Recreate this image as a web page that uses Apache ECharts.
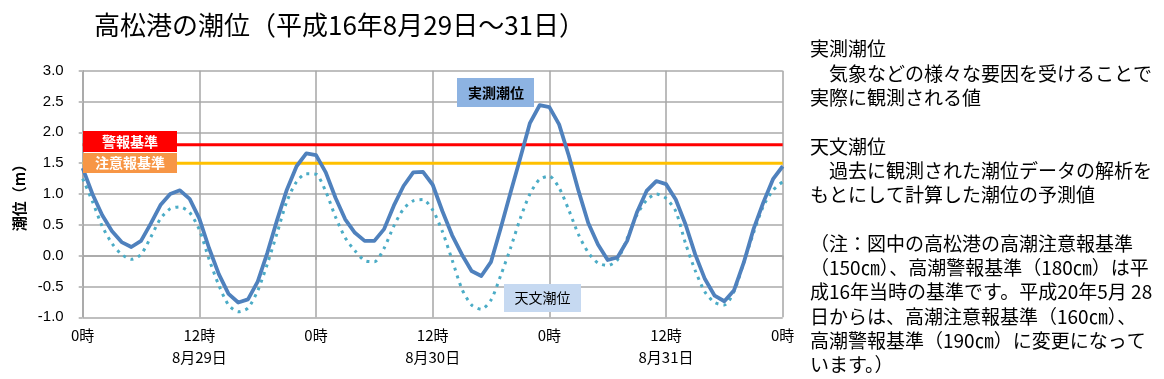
<!DOCTYPE html>
<html>
<head>
<meta charset="utf-8">
<script src="https://cdn.jsdelivr.net/npm/echarts@6/dist/echarts.min.js"></script>
<style>
html,body{margin:0;padding:0;background:#fff;}
#chart{width:1164px;height:379px;}
</style>
</head>
<body>
<div id="chart"></div>
<script>
// ---- data ----
const titleText = '高松港の潮位（平成16年8月29日～31日）';
const hoursCount = 72; // hourly observations 0..72
const hourTickLabels = ['0時', '12時', '0時', '12時', '0時', '12時', '0時'];
const dateTickLabels = ['', '8月29日', '', '8月30日', '', '8月31日', ''];
const yTickLabels = ['-1.0', '-0.5', '0.0', '0.5', '1.0', '1.5', '2.0', '2.5', '3.0'];

const observed = [1.42, 1.00, 0.66, 0.40, 0.22, 0.14, 0.24, 0.52, 0.82, 1.00, 1.06, 0.92, 0.60,
  0.12, -0.30, -0.62, -0.76, -0.71, -0.42, 0.05, 0.58, 1.07, 1.45, 1.66, 1.63,
  1.35, 0.94, 0.59, 0.37, 0.24, 0.24, 0.43, 0.81, 1.13, 1.35, 1.36, 1.15,
  0.72, 0.33, 0.02, -0.25, -0.33, -0.10, 0.45, 1.02, 1.58, 2.15, 2.44, 2.41,
  2.13, 1.62, 1.05, 0.53, 0.18, -0.07, -0.03, 0.24, 0.70, 1.05, 1.21, 1.16,
  0.91, 0.51, 0.02, -0.38, -0.65, -0.74, -0.56, -0.11, 0.43, 0.86, 1.24, 1.45];

const astronomical = [1.25, 0.88, 0.48, 0.20, 0.02, -0.06, 0.02, 0.30, 0.60, 0.76, 0.79, 0.70, 0.42,
  -0.06, -0.48, -0.80, -0.91, -0.85, -0.57, -0.13, 0.37, 0.88, 1.20, 1.33, 1.32,
  1.04, 0.63, 0.29, 0.08, -0.08, -0.10, 0.12, 0.48, 0.76, 0.89, 0.91, 0.74,
  0.39, -0.07, -0.54, -0.80, -0.87, -0.72, -0.32, 0.12, 0.60, 1.00, 1.24, 1.29,
  1.10, 0.74, 0.34, 0.05, -0.12, -0.16, -0.07, 0.28, 0.66, 0.90, 1.00, 0.93,
  0.72, 0.20, -0.24, -0.59, -0.76, -0.80, -0.58, -0.11, 0.37, 0.80, 1.06, 1.20];

const warningLevel = 1.8;   // 警報基準
const advisoryLevel = 1.5;  // 注意報基準

const seriesNames = ['実測潮位', '天文潮位'];
const levelNames = ['警報基準', '注意報基準'];
const noteLines = [
  '実測潮位',
  '　気象などの様々な要因を受けることで',
  '実際に観測される値',
  '',
  '天文潮位',
  '　過去に観測された潮位データの解析を',
  'もとにして計算した潮位の予測値',
  '',
  '（注：図中の高松港の高潮注意報基準',
  '（150㎝）、高潮警報基準（180㎝）は平',
  '成16年当時の基準です。平成20年5月 28',
  '日からは、高潮注意報基準（160㎝）、',
  '高潮警報基準（190㎝）に変更になって',
  'います。）'
];

// ---- chart ----
const JP = '"Noto Sans CJK JP", sans-serif';
const hours = [];
for (let h = 0; h <= hoursCount; h++) hours.push(h);
const pairs = arr => hours.map((h, i) => [h, arr[i]]);

const chart = echarts.init(document.getElementById('chart'), null, {renderer: 'canvas'});
const option = {
  animation: false,
  backgroundColor: '#ffffff',
  title: {
    text: titleText,
    left: 89, top: 7,
    textStyle: {fontFamily: JP, fontSize: 26, fontWeight: 'normal', color: '#000'}
  },
  grid: {left: 82.7, right: 381.3, top: 70.7, bottom: 61.7, containLabel: false},
  xAxis: {
    type: 'value', min: 0, max: hoursCount, interval: 12,
    axisLine: {show: true, lineStyle: {color: '#a6a6a6', width: 1.5}},
    axisTick: {show: true, length: 4, lineStyle: {color: '#a6a6a6', width: 1.5}},
    splitLine: {show: true, lineStyle: {color: '#a6a6a6', width: 1.5}},
    axisLabel: {
      margin: 7, lineHeight: 22,
      fontFamily: JP, fontSize: 15, color: '#000',
      formatter: v => {
        const i = Math.round(v / 12);
        return hourTickLabels[i] + (dateTickLabels[i] ? '\n' + dateTickLabels[i] : '');
      }
    }
  },
  yAxis: {
    type: 'value', min: -1, max: 3, interval: 0.5,
    name: '潮位（m）', nameLocation: 'middle', nameGap: 55,
    nameTextStyle: {fontFamily: JP, fontSize: 15, fontWeight: 'bold', color: '#000'},
    axisLine: {show: true, lineStyle: {color: '#a6a6a6', width: 1.5}},
    axisTick: {show: true, length: 4, lineStyle: {color: '#bfbfbf', width: 2}},
    splitLine: {show: true, lineStyle: {color: '#bfbfbf', width: 2}},
    axisLabel: {
      margin: 19, fontFamily: '"Liberation Sans", Arial, sans-serif', fontSize: 15, color: '#000',
      formatter: v => yTickLabels[Math.round((v + 1) / 0.5)]
    }
  },
  series: [
    {
      name: levelNames[0], type: 'line', z: 2, symbol: 'none', silent: true,
      data: [[0, warningLevel], [hoursCount, warningLevel]],
      lineStyle: {color: '#ff0000', width: 3}
    },
    {
      name: levelNames[1], type: 'line', z: 2, symbol: 'none', silent: true,
      data: [[0, advisoryLevel], [hoursCount, advisoryLevel]],
      lineStyle: {color: '#ffc000', width: 3}
    },
    {
      name: seriesNames[1], type: 'line', z: 3, symbol: 'none', smooth: 0.25,
      data: pairs(astronomical),
      lineStyle: {color: '#4bacc6', width: 3, type: [3, 5], cap: 'butt'}
    },
    {
      name: seriesNames[0], type: 'line', z: 4, symbol: 'none',
      data: pairs(observed),
      lineStyle: {color: '#4f81bd', width: 3.8, join: 'round'}
    }
  ],
  graphic: [
    {type: 'rect', z: 100, shape: {x: 83, y: 131, width: 94, height: 21}, style: {fill: '#ff0000'}},
    {type: 'text', z: 101, x: 130, y: 141.5, style: {text: levelNames[0], font: 'bold 14px ' + JP, fill: '#fff', align: 'center', verticalAlign: 'middle'}},
    {type: 'rect', z: 100, shape: {x: 83, y: 153, width: 94, height: 20}, style: {fill: '#f79646'}},
    {type: 'text', z: 101, x: 130, y: 163, style: {text: levelNames[1], font: 'bold 14px ' + JP, fill: '#fff', align: 'center', verticalAlign: 'middle'}},
    {type: 'rect', z: 100, shape: {x: 457, y: 78, width: 77, height: 29}, style: {fill: '#8db3e2'}},
    {type: 'text', z: 101, x: 496, y: 92.5, style: {text: seriesNames[0], font: 'bold 14px ' + JP, fill: '#000', align: 'center', verticalAlign: 'middle'}},
    {type: 'rect', z: 100, shape: {x: 504, y: 284, width: 77, height: 28}, style: {fill: '#c6d9f1'}},
    {type: 'text', z: 101, x: 542.5, y: 298, style: {text: seriesNames[1], font: '14px ' + JP, fill: '#000', align: 'center', verticalAlign: 'middle'}},
    {type: 'text', z: 101, x: 810, y: 37, style: {text: noteLines.join('\n'), font: '19px ' + JP, lineHeight: 24.3, fill: '#000', align: 'left', verticalAlign: 'top'}}
  ]
};
chart.setOption(option);
</script>
</body>
</html>
